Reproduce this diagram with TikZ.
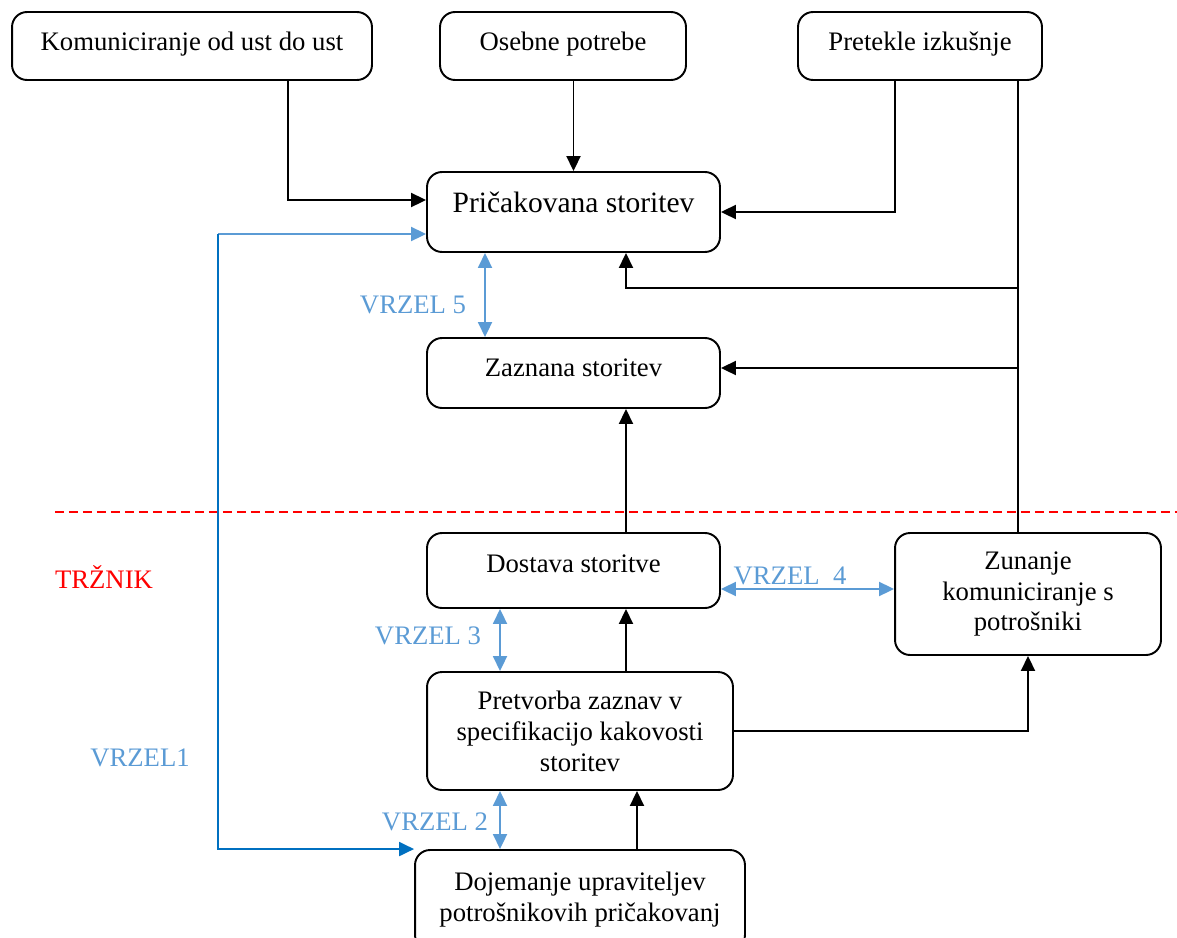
\documentclass[tikz,border=0pt]{standalone}
\usepackage{fontspec}
\setmainfont{Liberation Serif}
\usetikzlibrary{arrows.meta}
\definecolor{gapblue}{RGB}{91,155,213}
\definecolor{darkgap}{RGB}{0,112,192}
\newcommand{\boxfont}{\fontsize{15.2pt}{17.6pt}\selectfont}
\tikzstyle{block} = [rectangle, rounded corners=0.3cm, draw=black, line width=1.1pt, align=center, font=\boxfont]
\tikzstyle{arrow} = [line width=1.1pt, -{Triangle[length=0.3cm,width=0.28cm]}]
\tikzstyle{gap} = [gapblue, line width=1.1pt, {Triangle[length=0.3cm,width=0.28cm]}-{Triangle[length=0.3cm,width=0.28cm]}]
\tikzstyle{gaplabel} = [text=gapblue, font=\boxfont]

\begin{document}
\begin{tikzpicture}[x=0.02cm, y=-0.02cm]
\useasboundingbox (0,0) rectangle (1177,937);

\node (kom) [block, minimum width=7.2cm, minimum height=1.36cm, text depth=0.18cm] at (192,46) {Komuniciranje od ust do ust};
\node (oseb) [block, minimum width=4.92cm, minimum height=1.36cm, text depth=0.18cm] at (563,46) {Osebne potrebe};
\node (pret) [block, minimum width=4.88cm, minimum height=1.36cm, text depth=0.18cm] at (920,46) {Pretekle izkušnje};
\node (pric) [block, minimum width=5.86cm, minimum height=1.6cm, text depth=0.4cm, font=\fontsize{16.8pt}{19pt}\selectfont] at (573.5,212) {Pričakovana storitev};
\node (zazn) [block, minimum width=5.86cm, minimum height=1.4cm, text depth=0.2cm] at (573.5,373) {Zaznana storitev};
\node (dost) [block, minimum width=5.86cm, minimum height=1.5cm, text depth=0.28cm] at (573.5,570.5) {Dostava storitve};
\node (zun) [block, minimum width=5.32cm, minimum height=2.44cm] at (1028,594) {Zunanje\\komuniciranje s\\potrošniki};
\node (pretv) [block, minimum width=6.12cm, minimum height=2.36cm] at (580,731) {Pretvorba zaznav v\\specifikacijo kakovosti\\storitev};
\node (dojem) [block, minimum width=6.6cm, minimum height=2cm] at (580,900) {Dojemanje upraviteljev\\potrošnikovih pričakovanj};

% meja trznika
\draw [red, line width=1.1pt, dash pattern=on 0.18cm off 0.1cm] (55,512) -- (1177,512);
\node (trz) [text=red, font=\boxfont] at (104,577) {TRŽNIK};

% vplivi na pricakovano storitev
\draw [arrow] ([xshift=1.92cm]kom.south) |- ([yshift=0.24cm]pric.west);
\draw [arrow] (pric.north |- oseb.south) -- (pric.north);
\draw [arrow] ([xshift=-0.5cm]pret.south) |- (pric.east);
\coordinate (jt) at (1018,288);
\coordinate (jz) at (1018,368);
\draw [line width=1.1pt] ([xshift=1.96cm]pret.south) -- (jt) -- (jz) -- (jz |- zun.north);
\draw [arrow] (jt) -| ([xshift=1.05cm]pric.south);
\draw [arrow] (jz) -- (zazn.east |- jz);

% tok storitve
\draw [arrow] ([xshift=1.05cm]dost.north) -- ([xshift=1.05cm]zazn.south);
\draw [arrow] ([xshift=1.05cm]dost.south |- pretv.north) -- ([xshift=1.05cm]dost.south);
\draw [arrow] (pretv.east) -| (zun.south);
\draw [arrow] ([xshift=1.14cm]dojem.north) -- ([xshift=1.14cm]dojem.north |- pretv.south);

% vrzeli
\draw [gap] ([xshift=-1.77cm]pric.south) -- ([xshift=-1.77cm]zazn.north);
\node (v5) [gaplabel] at (413,305) {VRZEL 5};
\draw [gap] ([xshift=-1.47cm]dost.south) -- ([xshift=-1.47cm]dost.south |- pretv.north);
\node (v3) [gaplabel] at (428,636) {VRZEL 3};
\draw [gap] ([yshift=-0.37cm]dost.east) -- ([yshift=-0.37cm]dost.east -| zun.west);
\node (v4) [gaplabel] at (790,576) {VRZEL~~4};
\draw [gap] ([xshift=-1.6cm]dojem.north) -- ([xshift=-1.6cm]dojem.north |- pretv.south);
\node (v2) [gaplabel] at (435,822) {VRZEL 2};
\coordinate (v1) at (218,234);
\draw [arrow, gapblue] (v1) -- (v1 -| pric.west);
\draw [arrow, darkgap] (v1) |- (dojem.north west);
\node (v1lab) [gaplabel] at (140,758) {VRZEL1};
\end{tikzpicture}
\end{document}
